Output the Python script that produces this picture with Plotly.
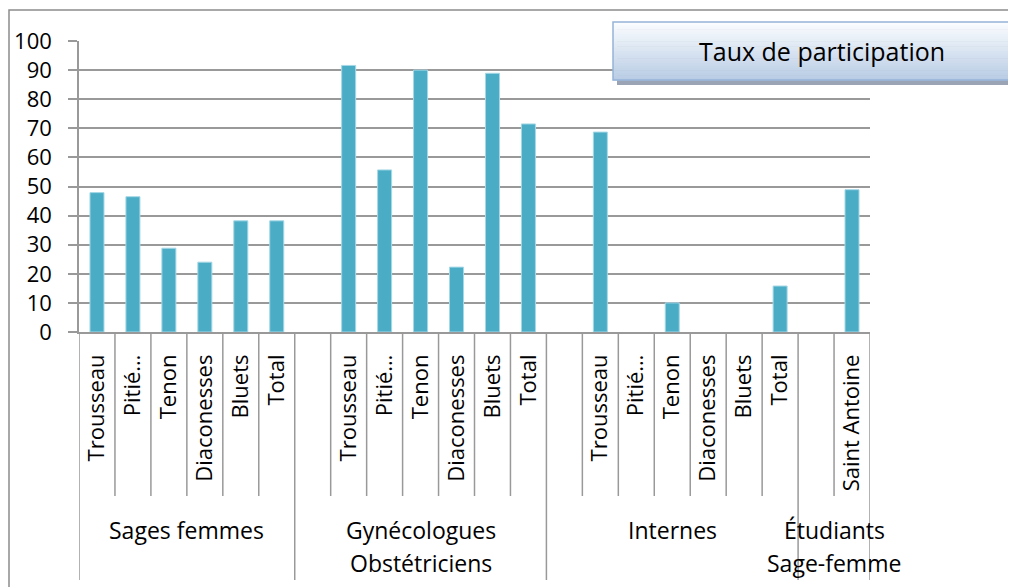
import plotly.graph_objects as go

# ---------------- data ----------------
group_labels = [["Sages femmes"], ["Gynécologues", "Obstétriciens"], ["Internes"], ["Étudiants", "Sage-femme"]]
sites_sf = ["Trousseau", "Pitié…", "Tenon", "Diaconesses", "Bluets", "Total"]
values_sf = [47.9, 46.5, 28.8, 24.0, 38.2, 38.2]
sites_go = ["", "Trousseau", "Pitié…", "Tenon", "Diaconesses", "Bluets", "Total"]
values_go = [None, 91.6, 55.7, 90.0, 22.3, 88.9, 71.5]
sites_int = ["", "Trousseau", "Pitié…", "Tenon", "Diaconesses", "Bluets", "Total"]
values_int = [None, 68.7, None, 10.0, None, None, 15.8]
sites_etu = ["", "Saint Antoine"]
values_etu = [None, 48.9]
y_ticks = [0, 10, 20, 30, 40, 50, 60, 70, 80, 90, 100]
chart_title = "Taux de participation"

groups_sites = [sites_sf, sites_go, sites_int, sites_etu]
groups_values = [values_sf, values_go, values_int, values_etu]

labels, values = [], []
for s, v in zip(groups_sites, groups_values):
    labels += s
    values += v
xs = list(range(len(labels)))

# ---------------- layout geometry (page pixels) ----------------
W, H = 1016, 587
OFF = 8  # default body margin of the html page
PL, PR, PT, PB = 79, 870, 41, 332
FONT = "Open Sans"
GRID = "#999999"
BAR = "#4bacc6"


def px(xp):
    return (xp - PL) / (PR - PL)


def py(yp):
    return (PB - yp) / (PB - PT)


fig = go.Figure()
fig.add_trace(go.Bar(
    x=xs, y=values,
    marker=dict(color=BAR, line=dict(color="#a5d8e6", width=1)),
    hoverinfo="skip",
))

shapes = []
# outer chart border (partially cropped)
shapes.append(dict(type="rect", xref="paper", yref="paper",
                   x0=px(9), x1=px(1040), y0=py(620), y1=py(10),
                   line=dict(color="#8c8c8c", width=1.5), fillcolor="rgba(0,0,0,0)", layer="below"))

# category separators
sizes = [len(s) for s in groups_sites]
start = 0
group_bounds = []
for n in sizes:
    group_bounds.append((start - 0.5, start + n - 0.5))
    for k in range(1, n):
        b = start + k - 0.5
        shapes.append(dict(type="line", xref="x", yref="paper", x0=b, x1=b,
                           y0=0, y1=py(496), line=dict(color=GRID, width=1.5)))
    start += n
long_bounds = sorted(set([b for gb in group_bounds for b in gb]))
for b in long_bounds:
    shapes.append(dict(type="line", xref="x", yref="paper", x0=b, x1=b,
                       y0=0, y1=py(580), line=dict(color=GRID, width=1.5)))

# title box: shadow + gradient + border
bx0, bx1, by0, by1 = 613, 1040, 22, 80
shapes.append(dict(type="rect", xref="paper", yref="paper",
                   x0=px(bx0 + 4), x1=px(bx1 + 4), y0=py(by1 + 5), y1=py(by0 + 5),
                   line=dict(width=0), fillcolor="#9aa4b4"))
nstrip = 24
c_top = (250, 252, 254)
c_bot = (185, 205, 229)
for i in range(nstrip):
    t = i / (nstrip - 1)
    c = tuple(int(round(c_top[j] + (c_bot[j] - c_top[j]) * t)) for j in range(3))
    ya = by0 + (by1 - by0) * i / nstrip
    yb = by0 + (by1 - by0) * (i + 1) / nstrip
    shapes.append(dict(type="rect", xref="paper", yref="paper",
                       x0=px(bx0), x1=px(bx1), y0=py(yb + 0.5), y1=py(ya),
                       line=dict(width=0), fillcolor="rgb(%d,%d,%d)" % c))
shapes.append(dict(type="rect", xref="paper", yref="paper",
                   x0=px(bx0), x1=px(bx1), y0=py(by1), y1=py(by0),
                   line=dict(color="#95b3d7", width=1.5), fillcolor="rgba(0,0,0,0)"))

annotations = [dict(text=chart_title, xref="paper", yref="paper", x=px(822), y=py(51),
                    xanchor="center", yanchor="middle", showarrow=False,
                    font=dict(family=FONT, size=25, color="black"))]

# group labels
for (g0, g1), lines in zip(group_bounds, group_labels):
    xc = (g0 + g1) / 2
    for i, line in enumerate(lines):
        annotations.append(dict(text=line, xref="x", yref="paper", x=xc, y=py(530 + 33 * i),
                                xanchor="center", yanchor="middle", showarrow=False,
                                font=dict(family=FONT, size=23, color="black")))

fig.update_layout(
    width=W - OFF, height=H - OFF,
    margin=dict(l=PL - OFF, r=W - PR, t=PT - OFF, b=H - PB, pad=0),
    paper_bgcolor="white", plot_bgcolor="white",
    showlegend=False,
    bargap=0.61,
    shapes=shapes,
    annotations=annotations,
    font=dict(family=FONT, color="black"),
)
fig.update_xaxes(
    range=[-0.5, len(labels) - 0.5],
    tickmode="array", tickvals=xs, ticktext=labels, tickangle=-90,
    ticks="", showgrid=False, zeroline=False,
    showline=True, linecolor=GRID, linewidth=1.5,
    tickfont=dict(family=FONT, size=22, color="black"),
    ticklabelstandoff=12, automargin=False,
)
fig.update_yaxes(
    range=[0, 100], tickmode="array", tickvals=y_ticks,
    ticks="outside", ticklen=9, tickcolor=GRID, tickwidth=1.5,
    showgrid=True, gridcolor=GRID, gridwidth=1.5,
    showline=True, linecolor=GRID, linewidth=1.5, zeroline=False,
    tickfont=dict(family=FONT, size=22, color="black"),
    ticklabelstandoff=12, automargin=False,
)

fig.write_html("out.html")
